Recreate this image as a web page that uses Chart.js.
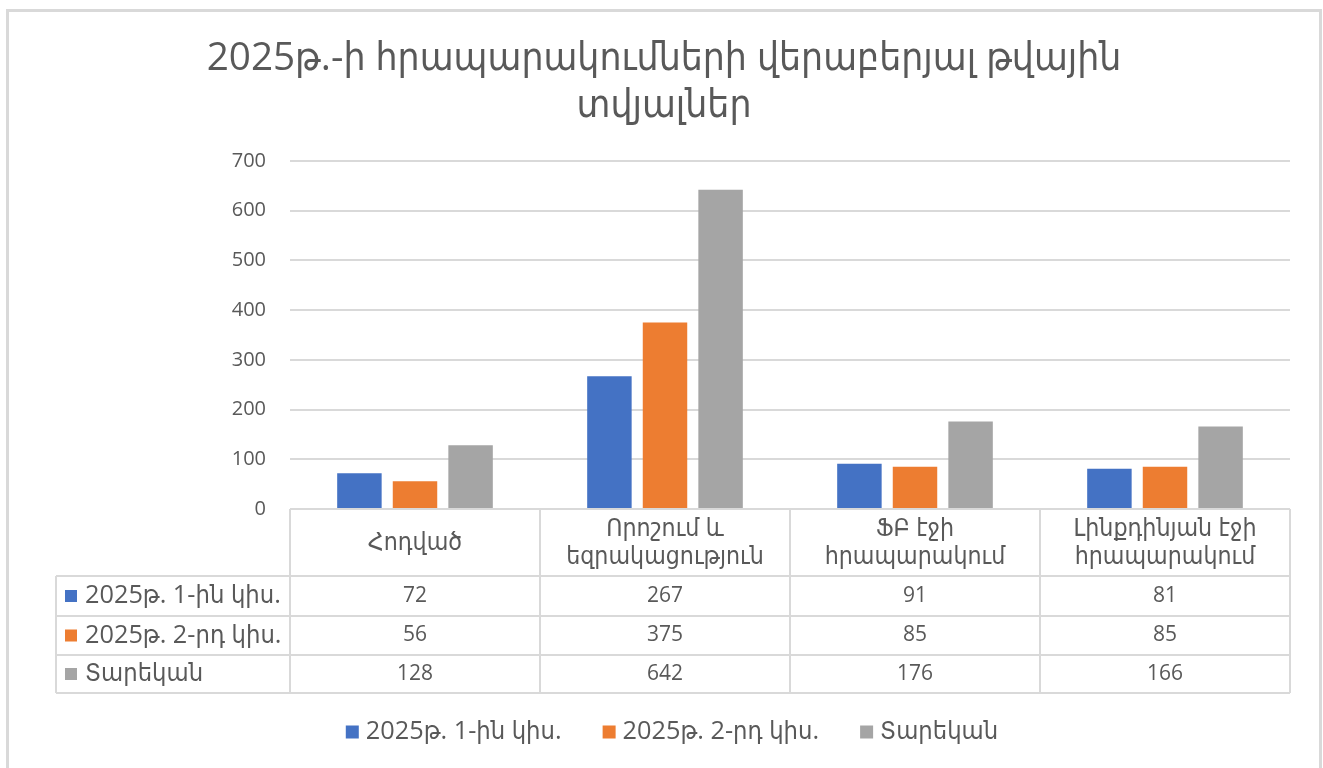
<!DOCTYPE html>
<html lang="hy">
<head>
<meta charset="UTF-8">
<title>2025թ.-ի հրապարակումներ</title>
<script src="https://cdn.jsdelivr.net/npm/chart.js"></script>
<style>
  html, body { margin: 0; padding: 0; background: #fff; }
  canvas { display: block; }
</style>
</head>
<body>
<canvas id="chart" width="1323" height="768"></canvas>
<script>
  // chart data
  const titleLines = ['2025թ.-ի հրապարակումների վերաբերյալ թվային', 'տվյալներ'];
  const categories = [['Հոդված'], ['Որոշում և', 'եզրակացություն'], ['ՖԲ էջի', 'հրապարակում'], ['Լինքդինյան էջի', 'հրապարակում']];
  const seriesNames = ['2025թ. 1-ին կիս.', '2025թ. 2-րդ կիս.', 'Տարեկան'];
  const firstHalf = [72, 267, 91, 81];
  const secondHalf = [56, 375, 85, 85];
  const annual = [128, 642, 176, 166];
  const yTicks = [0, 100, 200, 300, 400, 500, 600, 700];
  const colors = ['#4472C4', '#ED7D31', '#A5A5A5'];

  const TEXT = '#595959';
  const LINE = '#d9d9d9';
  const FONT = "'Open Sans', 'DejaVu Sans Condensed', 'DejaVu Sans', sans-serif";

  // font size that makes `text` about `target` px wide
  function fitSize(ctx, text, target) {
    ctx.font = '20px ' + FONT;
    return Math.round(20 * target / ctx.measureText(text).width * 10) / 10;
  }

  // draws frame, title, data table and legend around the plot
  const decorations = {
    id: 'decorations',
    afterDraw(chart) {
      const ctx = chart.ctx;
      const x = chart.scales.x;
      const y = chart.scales.y;
      const n = categories.length;
      const band = (x.right - x.left) / n;
      const top = y.getPixelForValue(0);
      const rows = [top, 576, 616, 655, 693];
      const labelLeft = 56;

      ctx.save();
      const titleSize = fitSize(ctx, titleLines[0], 915);
      const headSize = fitSize(ctx, categories[1][1], 198);
      const labelSize = fitSize(ctx, seriesNames[0], 196);

      // outer frame
      ctx.strokeStyle = LINE;
      ctx.lineWidth = 3;
      ctx.strokeRect(7.5, 10.5, 1313, 800);

      // title
      ctx.fillStyle = TEXT;
      ctx.textAlign = 'center';
      ctx.textBaseline = 'middle';
      ctx.font = titleSize + 'px ' + FONT;
      ctx.fillText(titleLines[0], 664, 59);
      ctx.fillText(titleLines[1], 664, 106);

      // table grid
      ctx.lineWidth = 2;
      ctx.strokeStyle = LINE;
      ctx.beginPath();
      ctx.moveTo(x.left, rows[0]);
      ctx.lineTo(x.right, rows[0]);
      for (let r = 1; r < rows.length; r++) {
        ctx.moveTo(labelLeft, rows[r]);
        ctx.lineTo(x.right, rows[r]);
      }
      ctx.moveTo(labelLeft, rows[1]);
      ctx.lineTo(labelLeft, rows[rows.length - 1]);
      for (let i = 0; i <= n; i++) {
        const cx = x.left + i * band;
        ctx.moveTo(cx, rows[0]);
        ctx.lineTo(cx, rows[rows.length - 1]);
      }
      ctx.stroke();

      // header cells
      ctx.font = headSize + 'px ' + FONT;
      ctx.fillStyle = TEXT;
      ctx.textAlign = 'center';
      const headMid = (rows[0] + rows[1]) / 2;
      categories.forEach((lines, i) => {
        const cx = x.getPixelForValue(i);
        const lh = 28;
        lines.forEach((t, j) => {
          ctx.fillText(t, cx, headMid + (j - (lines.length - 1) / 2) * lh);
        });
      });

      // value rows
      chart.data.datasets.forEach((ds, r) => {
        const mid = (rows[r + 1] + rows[r + 2]) / 2;
        ctx.fillStyle = ds.backgroundColor;
        ctx.fillRect(labelLeft + 9, mid - 6, 12, 12);
        ctx.fillStyle = TEXT;
        ctx.textAlign = 'left';
        ctx.font = labelSize + 'px ' + FONT;
        ctx.fillText(ds.label, labelLeft + 29, mid);
        ctx.textAlign = 'center';
        ctx.font = '21px ' + FONT;
        ds.data.forEach((v, i) => {
          ctx.fillText(String(v), x.getPixelForValue(i), mid);
        });
      });

      // legend
      ctx.font = labelSize + 'px ' + FONT;
      const box = 13, gap = 7, spacing = 41;
      const widths = chart.data.datasets.map(ds => box + gap + ctx.measureText(ds.label).width);
      const total = widths.reduce((a, b) => a + b, 0) + spacing * (widths.length - 1);
      let lx = 672 - total / 2;
      const ly = 732;
      chart.data.datasets.forEach((ds, i) => {
        ctx.fillStyle = ds.backgroundColor;
        ctx.fillRect(lx, ly - box / 2, box, box);
        ctx.fillStyle = TEXT;
        ctx.textAlign = 'left';
        ctx.fillText(ds.label, lx + box + gap, ly);
        lx += widths[i] + spacing;
      });

      ctx.restore();
    }
  };

  const seriesValues = [firstHalf, secondHalf, annual];

  new Chart(document.getElementById('chart'), {
    type: 'bar',
    data: {
      labels: categories,
      datasets: seriesNames.map((name, i) => ({
        label: name,
        data: seriesValues[i],
        backgroundColor: colors[i],
        categoryPercentage: 0.667,
        barPercentage: 0.8
      }))
    },
    options: {
      responsive: false,
      animation: false,
      layout: { padding: { top: 161, bottom: 259, left: 8, right: 33 } },
      plugins: {
        legend: { display: false },
        title: { display: false },
        tooltip: { enabled: false }
      },
      scales: {
        x: { display: false },
        y: {
          min: yTicks[0],
          max: yTicks[yTicks.length - 1],
          afterBuildTicks: scale => { scale.ticks = yTicks.map(v => ({ value: v })); },
          afterFit: scale => { scale.width = 282; },
          border: { display: false },
          grid: { color: LINE, lineWidth: 2, drawTicks: false },
          ticks: { color: TEXT, padding: 24, font: { family: FONT, size: 20 } }
        }
      }
    },
    plugins: [decorations]
  });
</script>
</body>
</html>
